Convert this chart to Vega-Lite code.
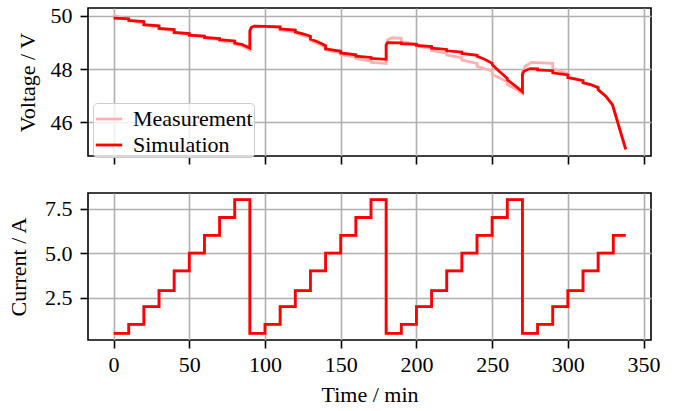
{
  "$schema": "https://vega.github.io/schema/vega-lite/v6.json",
  "autosize": {"type": "pad"},
  "padding": {"left": 6, "top": 4, "right": 5, "bottom": 5},
  "bounds": "flush",
  "spacing": 37,
  "datasets": {
    "volt": [
      {"t":0,"v":50.06,"s":"Measurement"},{"t":1,"v":50.0,"s":"Measurement"},{"t":10,"v":49.88,"s":"Measurement"},{"t":10,"v":49.82,"s":"Measurement"},{"t":20,"v":49.75,"s":"Measurement"},{"t":20,"v":49.66,"s":"Measurement"},{"t":30,"v":49.59,"s":"Measurement"},{"t":30,"v":49.52,"s":"Measurement"},{"t":40,"v":49.45,"s":"Measurement"},{"t":40,"v":49.37,"s":"Measurement"},{"t":50,"v":49.31,"s":"Measurement"},{"t":50,"v":49.27,"s":"Measurement"},{"t":60,"v":49.21,"s":"Measurement"},{"t":60,"v":49.17,"s":"Measurement"},{"t":70,"v":49.11,"s":"Measurement"},{"t":70,"v":49.07,"s":"Measurement"},{"t":80,"v":49.0,"s":"Measurement"},{"t":80,"v":48.94,"s":"Measurement"},{"t":85,"v":48.87,"s":"Measurement"},{"t":90,"v":48.72,"s":"Measurement"},{"t":90,"v":49.4,"s":"Measurement"},{"t":91,"v":49.55,"s":"Measurement"},{"t":93,"v":49.62,"s":"Measurement"},{"t":100,"v":49.6,"s":"Measurement"},{"t":110,"v":49.56,"s":"Measurement"},{"t":110,"v":49.47,"s":"Measurement"},{"t":120,"v":49.4,"s":"Measurement"},{"t":120,"v":49.35,"s":"Measurement"},{"t":125,"v":49.27,"s":"Measurement"},{"t":130,"v":49.17,"s":"Measurement"},{"t":130,"v":49.07,"s":"Measurement"},{"t":135,"v":48.96,"s":"Measurement"},{"t":140,"v":48.82,"s":"Measurement"},{"t":140,"v":48.72,"s":"Measurement"},{"t":150,"v":48.6,"s":"Measurement"},{"t":150,"v":48.55,"s":"Measurement"},{"t":160,"v":48.45,"s":"Measurement"},{"t":160,"v":48.4,"s":"Measurement"},{"t":170,"v":48.3,"s":"Measurement"},{"t":170,"v":48.26,"s":"Measurement"},{"t":180,"v":48.21,"s":"Measurement"},{"t":180,"v":48.95,"s":"Measurement"},{"t":181,"v":49.1,"s":"Measurement"},{"t":184,"v":49.18,"s":"Measurement"},{"t":190,"v":49.16,"s":"Measurement"},{"t":190,"v":49.03,"s":"Measurement"},{"t":200,"v":48.94,"s":"Measurement"},{"t":200,"v":48.87,"s":"Measurement"},{"t":210,"v":48.78,"s":"Measurement"},{"t":210,"v":48.7,"s":"Measurement"},{"t":220,"v":48.6,"s":"Measurement"},{"t":220,"v":48.53,"s":"Measurement"},{"t":230,"v":48.43,"s":"Measurement"},{"t":230,"v":48.34,"s":"Measurement"},{"t":240,"v":48.22,"s":"Measurement"},{"t":240,"v":48.1,"s":"Measurement"},{"t":250,"v":47.93,"s":"Measurement"},{"t":250,"v":47.8,"s":"Measurement"},{"t":260,"v":47.52,"s":"Measurement"},{"t":260,"v":47.42,"s":"Measurement"},{"t":265,"v":47.27,"s":"Measurement"},{"t":270,"v":47.08,"s":"Measurement"},{"t":270,"v":47.9,"s":"Measurement"},{"t":272,"v":48.12,"s":"Measurement"},{"t":276,"v":48.25,"s":"Measurement"},{"t":290,"v":48.22,"s":"Measurement"},{"t":290,"v":48.02,"s":"Measurement"},{"t":300,"v":47.83,"s":"Measurement"},{"t":300,"v":47.7,"s":"Measurement"},{"t":310,"v":47.58,"s":"Measurement"},{"t":310,"v":47.48,"s":"Measurement"},{"t":320,"v":47.33,"s":"Measurement"},{"t":320,"v":47.24,"s":"Measurement"},{"t":325,"v":47.0,"s":"Measurement"},{"t":329.5,"v":46.67,"s":"Measurement"},{"t":338.2,"v":44.98,"s":"Measurement"},
      {"t":0,"v":49.92,"s":"Simulation"},{"t":10,"v":49.89,"s":"Simulation"},{"t":10,"v":49.83,"s":"Simulation"},{"t":20,"v":49.79,"s":"Simulation"},{"t":20,"v":49.67,"s":"Simulation"},{"t":30,"v":49.63,"s":"Simulation"},{"t":30,"v":49.53,"s":"Simulation"},{"t":40,"v":49.49,"s":"Simulation"},{"t":40,"v":49.38,"s":"Simulation"},{"t":50,"v":49.34,"s":"Simulation"},{"t":50,"v":49.28,"s":"Simulation"},{"t":60,"v":49.24,"s":"Simulation"},{"t":60,"v":49.19,"s":"Simulation"},{"t":70,"v":49.15,"s":"Simulation"},{"t":70,"v":49.11,"s":"Simulation"},{"t":80,"v":49.06,"s":"Simulation"},{"t":80,"v":48.98,"s":"Simulation"},{"t":85,"v":48.92,"s":"Simulation"},{"t":90,"v":48.79,"s":"Simulation"},{"t":90,"v":49.45,"s":"Simulation"},{"t":91,"v":49.57,"s":"Simulation"},{"t":93,"v":49.62,"s":"Simulation"},{"t":100,"v":49.61,"s":"Simulation"},{"t":110,"v":49.59,"s":"Simulation"},{"t":110,"v":49.51,"s":"Simulation"},{"t":120,"v":49.47,"s":"Simulation"},{"t":120,"v":49.4,"s":"Simulation"},{"t":125,"v":49.33,"s":"Simulation"},{"t":130,"v":49.24,"s":"Simulation"},{"t":130,"v":49.13,"s":"Simulation"},{"t":135,"v":49.02,"s":"Simulation"},{"t":140,"v":48.88,"s":"Simulation"},{"t":140,"v":48.76,"s":"Simulation"},{"t":150,"v":48.67,"s":"Simulation"},{"t":150,"v":48.61,"s":"Simulation"},{"t":160,"v":48.54,"s":"Simulation"},{"t":160,"v":48.49,"s":"Simulation"},{"t":170,"v":48.44,"s":"Simulation"},{"t":170,"v":48.4,"s":"Simulation"},{"t":180,"v":48.37,"s":"Simulation"},{"t":180,"v":48.9,"s":"Simulation"},{"t":181,"v":49.0,"s":"Simulation"},{"t":190,"v":48.99,"s":"Simulation"},{"t":190,"v":48.96,"s":"Simulation"},{"t":200,"v":48.93,"s":"Simulation"},{"t":200,"v":48.89,"s":"Simulation"},{"t":210,"v":48.85,"s":"Simulation"},{"t":210,"v":48.79,"s":"Simulation"},{"t":220,"v":48.74,"s":"Simulation"},{"t":220,"v":48.69,"s":"Simulation"},{"t":230,"v":48.64,"s":"Simulation"},{"t":230,"v":48.59,"s":"Simulation"},{"t":240,"v":48.52,"s":"Simulation"},{"t":240,"v":48.48,"s":"Simulation"},{"t":245,"v":48.37,"s":"Simulation"},{"t":250,"v":48.22,"s":"Simulation"},{"t":250,"v":48.17,"s":"Simulation"},{"t":255,"v":47.9,"s":"Simulation"},{"t":260,"v":47.65,"s":"Simulation"},{"t":260,"v":47.6,"s":"Simulation"},{"t":265,"v":47.38,"s":"Simulation"},{"t":270,"v":47.15,"s":"Simulation"},{"t":270,"v":47.8,"s":"Simulation"},{"t":271,"v":47.92,"s":"Simulation"},{"t":275,"v":48.02,"s":"Simulation"},{"t":280,"v":48.01,"s":"Simulation"},{"t":280,"v":47.97,"s":"Simulation"},{"t":290,"v":47.94,"s":"Simulation"},{"t":290,"v":47.86,"s":"Simulation"},{"t":300,"v":47.78,"s":"Simulation"},{"t":300,"v":47.68,"s":"Simulation"},{"t":310,"v":47.57,"s":"Simulation"},{"t":310,"v":47.49,"s":"Simulation"},{"t":315,"v":47.42,"s":"Simulation"},{"t":320,"v":47.3,"s":"Simulation"},{"t":320,"v":47.22,"s":"Simulation"},{"t":325,"v":46.98,"s":"Simulation"},{"t":329.5,"v":46.65,"s":"Simulation"},{"t":338.2,"v":44.98,"s":"Simulation"}
    ],
    "curr": [
      {"t":0,"i":0.5,"s":"Measurement"},{"t":10,"i":1,"s":"Measurement"},{"t":20,"i":2,"s":"Measurement"},{"t":30,"i":2.9,"s":"Measurement"},{"t":40,"i":4,"s":"Measurement"},{"t":50,"i":5,"s":"Measurement"},{"t":60,"i":6,"s":"Measurement"},{"t":70,"i":7,"s":"Measurement"},{"t":80,"i":8,"s":"Measurement"},{"t":90,"i":0.5,"s":"Measurement"},{"t":100,"i":1,"s":"Measurement"},{"t":110,"i":2,"s":"Measurement"},{"t":120,"i":2.9,"s":"Measurement"},{"t":130,"i":4,"s":"Measurement"},{"t":140,"i":5,"s":"Measurement"},{"t":150,"i":6,"s":"Measurement"},{"t":160,"i":7,"s":"Measurement"},{"t":170,"i":8,"s":"Measurement"},{"t":180,"i":0.5,"s":"Measurement"},{"t":190,"i":1,"s":"Measurement"},{"t":200,"i":2,"s":"Measurement"},{"t":210,"i":2.9,"s":"Measurement"},{"t":220,"i":4,"s":"Measurement"},{"t":230,"i":5,"s":"Measurement"},{"t":240,"i":6,"s":"Measurement"},{"t":250,"i":7,"s":"Measurement"},{"t":260,"i":8,"s":"Measurement"},{"t":270,"i":0.5,"s":"Measurement"},{"t":280,"i":1,"s":"Measurement"},{"t":290,"i":2,"s":"Measurement"},{"t":300,"i":2.9,"s":"Measurement"},{"t":310,"i":4,"s":"Measurement"},{"t":320,"i":5,"s":"Measurement"},{"t":330,"i":6,"s":"Measurement"},{"t":338.2,"i":6,"s":"Measurement"},
      {"t":0,"i":0.5,"s":"Simulation"},{"t":10,"i":1,"s":"Simulation"},{"t":20,"i":2,"s":"Simulation"},{"t":30,"i":2.9,"s":"Simulation"},{"t":40,"i":4,"s":"Simulation"},{"t":50,"i":5,"s":"Simulation"},{"t":60,"i":6,"s":"Simulation"},{"t":70,"i":7,"s":"Simulation"},{"t":80,"i":8,"s":"Simulation"},{"t":90,"i":0.5,"s":"Simulation"},{"t":100,"i":1,"s":"Simulation"},{"t":110,"i":2,"s":"Simulation"},{"t":120,"i":2.9,"s":"Simulation"},{"t":130,"i":4,"s":"Simulation"},{"t":140,"i":5,"s":"Simulation"},{"t":150,"i":6,"s":"Simulation"},{"t":160,"i":7,"s":"Simulation"},{"t":170,"i":8,"s":"Simulation"},{"t":180,"i":0.5,"s":"Simulation"},{"t":190,"i":1,"s":"Simulation"},{"t":200,"i":2,"s":"Simulation"},{"t":210,"i":2.9,"s":"Simulation"},{"t":220,"i":4,"s":"Simulation"},{"t":230,"i":5,"s":"Simulation"},{"t":240,"i":6,"s":"Simulation"},{"t":250,"i":7,"s":"Simulation"},{"t":260,"i":8,"s":"Simulation"},{"t":270,"i":0.5,"s":"Simulation"},{"t":280,"i":1,"s":"Simulation"},{"t":290,"i":2,"s":"Simulation"},{"t":300,"i":2.9,"s":"Simulation"},{"t":310,"i":4,"s":"Simulation"},{"t":320,"i":5,"s":"Simulation"},{"t":330,"i":6,"s":"Simulation"},{"t":338.2,"i":6,"s":"Simulation"}
    ]
  },
  "vconcat": [
    {
      "width": 563,
      "height": 148,
      "data": {"name": "volt"},
      "mark": {"type": "line", "strokeWidth": 2.8, "clip": true},
      "encoding": {
        "x": {"field": "t", "type": "quantitative", "scale": {"domain": [-16.9, 354.9], "nice": false, "zero": false},
              "axis": {"values": [0, 50, 100, 150, 200, 250, 300, 350], "labels": false, "title": null}},
        "y": {"field": "v", "type": "quantitative", "scale": {"domain": [44.73, 50.3], "nice": false, "zero": false},
              "axis": {"values": [46, 48, 50], "title": "Voltage / V", "titlePadding": 11, "labelPadding": 8}},
        "color": {"field": "s", "type": "nominal",
                  "scale": {"domain": ["Measurement", "Simulation"], "range": ["#ffb0b0", "#ff0000"]},
                  "legend": {"title": null}}
      }
    },
    {
      "width": 563,
      "height": 147,
      "data": {"name": "curr"},
      "mark": {"type": "line", "strokeWidth": 2.8, "interpolate": "step-after", "clip": true},
      "encoding": {
        "x": {"field": "t", "type": "quantitative", "scale": {"domain": [-16.9, 354.9], "nice": false, "zero": false},
              "axis": {"values": [0, 50, 100, 150, 200, 250, 300, 350], "title": "Time / min", "format": "d", "titlePadding": 9, "labelPadding": 6}},
        "y": {"field": "i", "type": "quantitative", "scale": {"domain": [0.125, 8.375], "nice": false, "zero": false},
              "axis": {"values": [2.5, 5.0, 7.5], "format": ".1f", "title": "Current / A", "titlePadding": 14, "labelPadding": 8}},
        "color": {"field": "s", "type": "nominal",
                  "scale": {"domain": ["Measurement", "Simulation"], "range": ["#ffb0b0", "#ff0000"]},
                  "legend": {"title": null}}
      }
    }
  ],
  "config": {
    "font": "Liberation Serif",
    "background": "white",
    "view": {"stroke": "black", "strokeWidth": 1.6},
    "axis": {
      "labelFont": "Liberation Serif", "labelFontSize": 22, "labelColor": "black",
      "titleFont": "Liberation Serif", "titleFontSize": 22, "titleFontWeight": "normal", "titleColor": "black",
      "domain": false, "ticks": true, "tickColor": "black", "tickSize": 8, "tickWidth": 1.6,
      "grid": true, "gridColor": "#b0b0b0", "gridWidth": 1.6
    },
    "legend": {
      "orient": "none", "legendX": 5, "legendY": 95, "direction": "vertical",
      "labelFont": "Liberation Serif", "labelFontSize": 22, "labelColor": "black",
      "symbolType": "stroke", "symbolSize": 700, "symbolStrokeWidth": 2.8,
      "fillColor": "rgba(255,255,255,0.8)", "strokeColor": "#cccccc", "cornerRadius": 4,
      "padding": 1, "rowPadding": -2, "labelOffset": 9
    }
  }
}
